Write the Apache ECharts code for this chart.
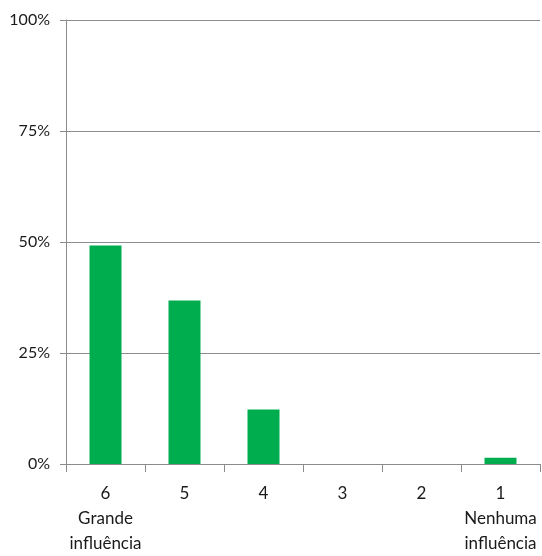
<!DOCTYPE html>
<html><head><meta charset="utf-8">
<script src="https://cdn.jsdelivr.net/npm/echarts@6/dist/echarts.min.js"></script>
<style>html,body{margin:0;padding:0;background:#fff}#c{width:542px;height:556px}</style>
</head><body><div id="c"></div>
<script>
const categories = ["6\nGrande\ninfluência", "5", "4", "3", "2", "1\nNenhuma\ninfluência"];
const values = [49.2, 36.8, 12.3, 0, 0, 1.4];
const yTicks = [0, 25, 50, 75, 100];

const chart = echarts.init(document.getElementById('c'), null, {renderer: 'canvas'});
const font = 'Lato, "Open Sans", sans-serif';
chart.setOption({
  animation: false,
  grid: {left: 66, right: 2, top: 20, bottom: 90, containLabel: false},
  xAxis: {
    type: 'category', data: categories,
    axisLine: {lineStyle: {color: '#8c8c8c', width: 1}},
    axisTick: {show: true, length: 8, lineStyle: {color: '#8c8c8c'}},
    axisLabel: {color: '#1a1a1a', fontFamily: font, fontSize: 17, lineHeight: 25, margin: 17, interval: 0}
  },
  yAxis: {
    type: 'value', min: 0, max: 100, interval: 25,
    axisLine: {show: true, lineStyle: {color: '#8c8c8c', width: 1}},
    axisTick: {show: true, length: 6, lineStyle: {color: '#8c8c8c'}},
    splitLine: {show: true, lineStyle: {color: '#8c8c8c', width: 1}},
    axisLabel: {color: '#1a1a1a', fontFamily: font, fontSize: 16, margin: 16,
      formatter: v => yTicks.includes(v) ? v + '%' : ''}
  },
  series: [{
    type: 'bar', data: values, barWidth: 32,
    itemStyle: {color: '#00ad4e'}
  }]
});
</script></body></html>
